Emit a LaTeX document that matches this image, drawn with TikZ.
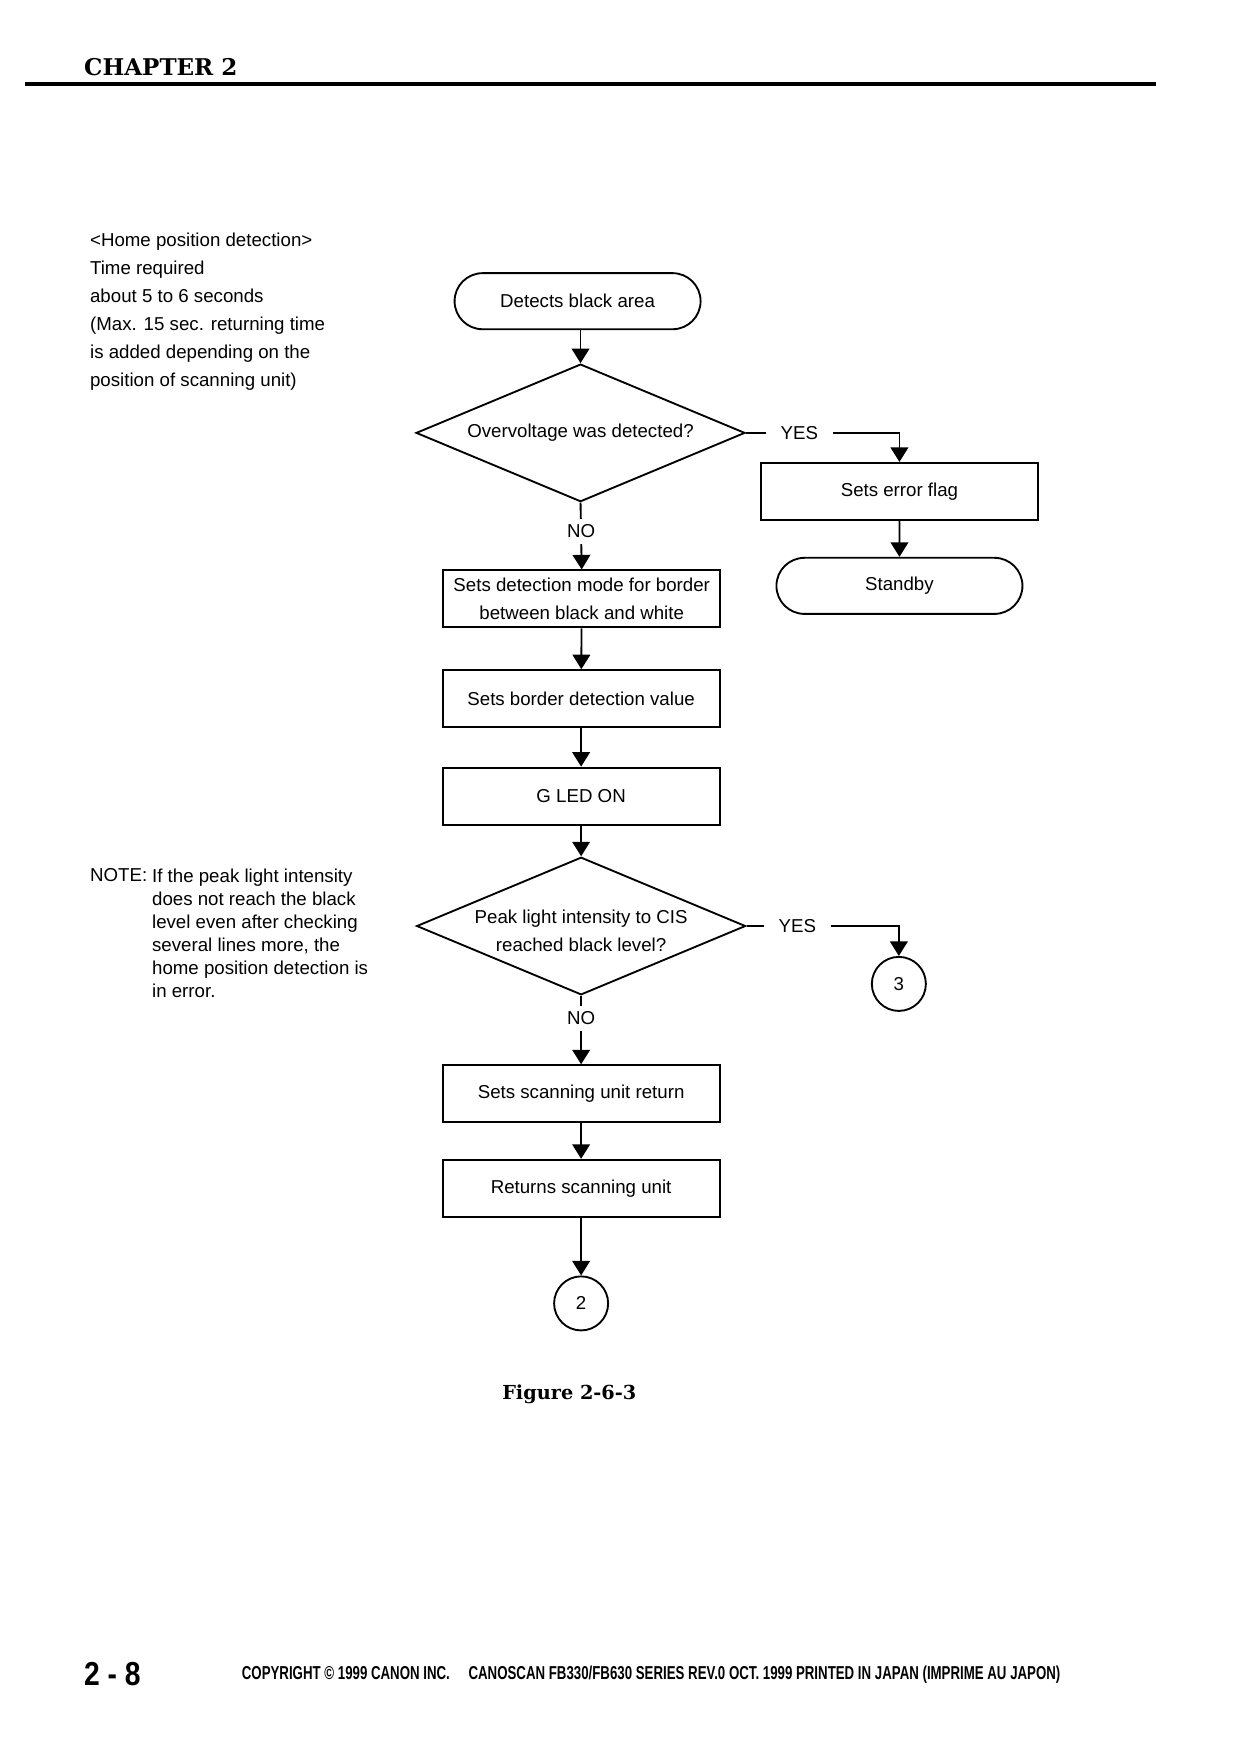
\documentclass[tikz,border=0pt]{standalone}
\usepackage{fontspec}
\setmainfont{Liberation Sans}
\newfontfamily\headfont{DejaVu Serif}
\newfontfamily\footfont[FakeStretch=0.71]{Liberation Sans}
\newfontfamily\pagenofont[FakeStretch=0.85]{Liberation Sans}
\usetikzlibrary{arrows.meta,shapes.geometric,shapes.misc}

\begin{document}
\begin{tikzpicture}[>={Triangle[length=7pt,width=8.5pt]}, line width=0.9pt, font=\fontsize{9}{13.5}\selectfont,
    terminal/.style={draw, rounded rectangle, minimum width=4.4cm, minimum height=0.95cm},
    process/.style={draw, rectangle, minimum width=4.69cm, minimum height=0.965cm, align=center},
    decision/.style={draw, diamond, minimum width=5.57cm, minimum height=2.33cm, inner sep=0pt},
    onpage/.style={draw, circle, minimum size=0.915cm, inner sep=0pt},
    answer/.style={fill=white, inner xsep=7pt, inner ysep=3pt}]
    \path[use as bounding box, fill=white] (0,0) rectangle (21,-29.7);
    % page head
    \node[anchor=west, inner sep=0, font=\headfont\bfseries\fontsize{11.1}{13}\selectfont] (chapter) at (1.41,-1.13) {CHAPTER 2};
    \draw[line width=2pt] (0.42,-1.42) -- (19.58,-1.42);
    % notes
    \node[anchor=west, inner sep=0, align=left] (homenote) at (1.51,-5.28) {<Home position detection>\\Time required\\about 5 to 6 seconds\\(Max. 15 sec. returning time\\is added depending on the\\position of scanning unit)};
    \node[anchor=west, inner sep=0, align=left, font=\fontsize{9}{11.1}\selectfont] (notebody) at (2.56,-15.80) {If the peak light intensity\\does not reach the black\\level even after checking\\several lines more, the\\home position detection is\\in error.};
    \node[anchor=north west, inner sep=0] (notelabel) at (homenote.west |- notebody.north) {NOTE:};
    % flow
    \node[terminal] (start) at (9.78,-5.10) {Detects black area};
    \node[decision] (d1) at (9.83,-7.33) {};
    \node (d1text) at (d1) {Overvoltage was detected?};
    \node[process] (errflag) at (15.23,-8.32) {Sets error flag};
    \node[terminal] (standby) at (15.23,-9.92) {Standby};
    \node[process] (bordermode) at (9.85,-10.14) {Sets detection mode for border\\between black and white};
    \node[process] (bordervalue) at (9.84,-11.83) {Sets border detection value};
    \node[process] (gled) at (9.84,-13.48) {G LED ON};
    \node[decision] (d2) at (9.84,-15.68) {};
    \node[align=center, yshift=-0.08cm, font=\fontsize{9}{13.4}\selectfont] (d2text) at (d2) {Peak light intensity to CIS\\reached black level?};
    \node[onpage] (c3) at (15.22,-16.66) {3};
    \node[process] (unitreturn) at (9.84,-18.52) {Sets scanning unit return};
    \node[process] (returnsunit) at (9.84,-20.12) {Returns scanning unit};
    \node[onpage] (c2) at (9.84,-22.07) {2};
    \draw[->] (start.south -| d1.north) -- (d1.north);
    \draw[->] (d1.east) -| (errflag.north) node[answer, pos=0.174] {YES};
    \draw[->] (errflag) -- (standby);
    \draw[->] (d1.south) -- (bordermode.north) node[answer, pos=0.43] {NO};
    \draw[->] (bordermode) -- (bordervalue);
    \draw[->] (bordervalue) -- (gled);
    \draw[->] (gled) -- (d2.north);
    \draw[->] (d2.east) -| (c3.north) node[answer, pos=0.167] {YES};
    \draw[->] (d2.south) -- (unitreturn.north) node[answer, pos=0.33] {NO};
    \draw[->] (unitreturn) -- (returnsunit);
    \draw[->] (returnsunit) -- (c2);
    \node[font=\headfont\bfseries\fontsize{9.3}{11}\selectfont] (caption) at (9.64,-23.61) {Figure 2-6-3};
    % page foot
    \node[anchor=west, inner sep=0, font=\pagenofont\bfseries\fontsize{16}{18}\selectfont] (pageno) at (1.41,-28.35) {2 - 8};
    \node[anchor=west, inner sep=0, font=\footfont\bfseries\fontsize{9}{11}\selectfont] (copyright) at (4.08,-28.35) {COPYRIGHT © 1999 CANON INC.\quad CANOSCAN FB330/FB630 SERIES REV.0 OCT. 1999 PRINTED IN JAPAN (IMPRIME AU JAPON)};
\end{tikzpicture}
\end{document}
